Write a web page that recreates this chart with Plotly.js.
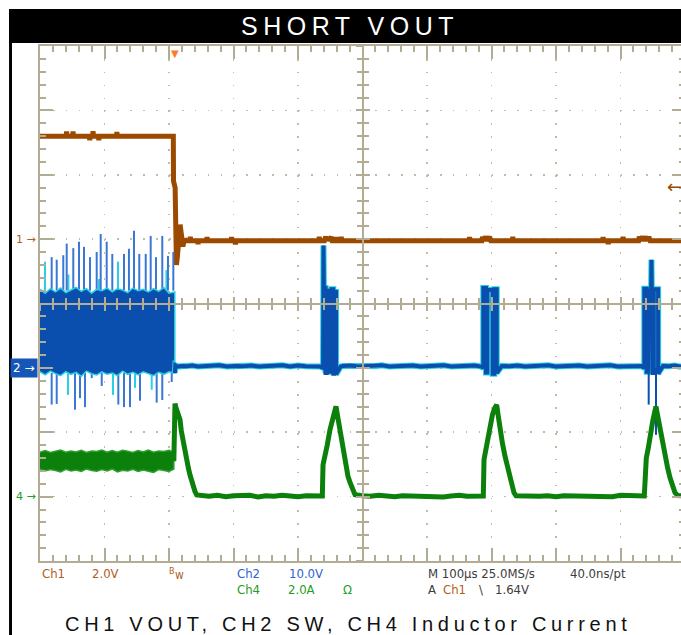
<!DOCTYPE html>
<html><head><meta charset="utf-8">
<script src="https://cdn.plot.ly/plotly-3.0.1.min.js"></script>
<style>html,body{margin:0;padding:0;overflow:hidden;background:#fff}</style>
</head><body><div id="chart" style="width:690px;height:635px"></div>
<script>
// ---- Ch1 VOUT (V), time in microseconds from left edge of screen
const ch1Time = [0, 40.5, 41.2, 42, 50.5, 51.2, 52, 76.5, 77.2, 78, 81.5, 82.2, 83, 90.5, 91.2, 92, 118.5, 119.2, 120, 206.7, 207.0, 209.5, 210.6, 211.5, 213.0, 215.0, 217.2, 219.5, 221.5, 224.0, 226.0, 232, 233, 234, 244, 245, 246, 258, 259, 260, 296, 297, 298, 302, 303, 304, 432, 433, 434, 441, 442, 443, 444, 447, 448, 452, 453, 458, 459, 460, 466, 467, 468, 665, 666, 667, 685, 686, 688, 691, 693, 697, 699, 732, 733, 734, 872, 873, 874, 880, 881, 882, 903, 904, 905, 928, 929, 931, 934, 936, 939, 941, 944, 946, 1000];
const ch1Volt = [3.2, 3.2, 3.34, 3.2, 3.2, 3.34, 3.2, 3.2, 3.07, 3.2, 3.2, 3.35, 3.2, 3.2, 3.07, 3.2, 3.2, 3.33, 3.2, 3.2, 1.8, 1.6, -0.2, -0.8, -0.55, 0.2, 0.45, 0.1, -0.23, 0.0, -0.05, -0.05, 0.07, -0.05, -0.05, -0.15, -0.05, -0.05, 0.06, -0.05, -0.05, 0.06, -0.05, -0.05, -0.16, -0.05, -0.05, 0.07, -0.05, -0.05, 0.08, 0.08, -0.05, 0.07, -0.05, 0.07, -0.05, -0.05, 0.06, -0.05, -0.05, 0.07, -0.05, -0.05, 0.06, -0.05, -0.05, 0.07, -0.05, 0.08, -0.05, 0.07, -0.05, -0.05, 0.07, -0.05, -0.05, 0.06, -0.05, -0.05, -0.15, -0.05, -0.05, 0.07, -0.05, -0.05, 0.08, -0.05, 0.08, -0.05, 0.08, -0.05, 0.07, -0.05, -0.05];

// ---- Ch2 SW (V): switching envelope before the short
const ch2BandTime = [0, 8, 16, 24, 32, 40, 48, 56, 64, 72, 80, 88, 96, 104, 112, 120, 128, 136, 144, 152, 160, 168, 176, 184, 192, 200, 209];
const ch2BandHigh = [12.2, 11.6, 12.3, 11.8, 12.4, 11.7, 12.1, 12.5, 11.9, 12.3, 11.6, 12.2, 12.0, 12.4, 11.8, 12.3, 12.1, 11.7, 12.4, 12.0, 12.2, 11.8, 12.3, 11.9, 12.5, 11.6, 11.8];
const ch2BandLow  = [-0.6, -1.1, -0.5, -0.9, -1.2, -0.6, -1.0, -0.7, -1.3, -0.5, -0.9, -1.1, -0.6, -1.0, -0.8, -1.2, -0.5, -1.0, -0.7, -1.1, -0.6, -0.9, -1.2, -0.7, -1.0, -0.6, -0.8];
const ch2SwitchHigh = 12.0;
const ch2SwitchLow = -0.8;
const ch2SpikeUpTime = [18.1, 25.9, 36.1, 41.4, 51.6, 60.5, 68.2, 77.5, 87.9, 94.1, 103.4, 112.1, 130.2, 137.9, 145.7, 153.9, 163.9, 171.6, 179.8, 189.6, 198.4, 206.7];
const ch2SpikeUpVolt = [17.2, 16.8, 17.5, 19.3, 18.6, 19.6, 18.8, 17.2, 18.0, 20.8, 19.6, 17.7, 17.7, 18.5, 21.3, 17.7, 17.7, 20.5, 17.2, 20.5, 17.4, 18.0];
const ch2SpikeUpCyanTime = [7.8, 44.0, 91.4, 120.9, 196.0];
const ch2SpikeUpCyanVolt = [16.5, 14.5, 13.8, 16.5, 15.2];
const ch2SpikeDownTime = [18.1, 25.9, 54.3, 62.0, 69.8, 80.2, 95.7, 121.4, 130.2, 139.5, 155.0, 180.9, 189.6, 204.2];
const ch2SpikeDownVolt = [-5.7, -5.6, -6.5, -4.7, -6.1, -1.6, -2.8, -5.7, -6.1, -6.1, -5.1, -5.4, -5.0, -2.2];
const ch2SpikeDownCyanTime = [43.4, 113.2, 147.3, 173.2];
const ch2SpikeDownCyanVolt = [-4.2, -4.2, -3.1, -3.4];
// ---- Ch2 after the short (hiccup bursts)
const ch2Time = [209, 209.8, 213, 220, 228, 236, 245, 255, 266, 278, 290, 302, 315, 328, 340, 352, 364, 376, 388, 400, 412, 424, 434,
  438.9, 438.9, 439.5, 440.1, 442.6, 442.6, 444.5, 444.5, 449.6, 449.6, 452.2, 452.2, 454.7, 454.7, 456.3, 456.3, 458.9, 458.9,
  462, 466, 470, 482, 494, 506, 518, 530, 542, 554, 566, 578, 590, 602, 614, 626, 638, 650, 662, 674, 684,
  687.3, 687.3, 691.5, 691.5, 693.5, 693.5, 701.9, 701.9, 704.3, 704.3, 708.1, 708.1,
  712, 716, 728, 740, 752, 764, 776, 788, 800, 812, 824, 836, 848, 860, 872, 884, 896, 908, 920, 932,
  936.9, 936.9, 940.6, 940.6, 943.1, 943.1, 947.5, 948.0, 948.5, 949.9, 949.9, 951.6, 951.6, 958.3, 958.3,
  962, 966, 975, 984, 992, 1000];
const ch2Volt = [-0.8, 0.4, 0.2, 0.3, 0.25, 0.35, 0.2, 0.3, 0.3, 0.4, 0.2, 0.3, 0.25, 0.35, 0.2, 0.3, 0.3, 0.4, 0.2, 0.35, 0.25, 0.3, 0.2,
  0.0, 12.4, 19.0, 12.4, 12.4, -0.8, -0.8, 12.0, 12.0, -0.6, -0.6, 12.2, 12.2, -0.9, -0.9, 11.8, 11.8, -1.0,
  -0.5, 0.2, 0.3, 0.35, 0.2, 0.3, 0.25, 0.4, 0.2, 0.3, 0.3, 0.35, 0.2, 0.3, 0.25, 0.4, 0.2, 0.3, 0.25, 0.35, 0.2,
  0.0, 12.4, 12.4, -0.7, -0.7, 12.1, 12.1, -0.9, -0.9, 12.2, 12.2, -0.8,
  -0.3, 0.3, 0.25, 0.35, 0.2, 0.3, 0.3, 0.4, 0.2, 0.3, 0.25, 0.35, 0.2, 0.3, 0.3, 0.4, 0.2, 0.3, 0.25, 0.3,
  0.0, 12.3, 12.3, -0.6, -0.6, 12.0, 12.0, 16.8, 12.0, 12.0, -0.8, -0.8, 12.2, 12.2, -0.9,
  -0.3, 0.3, 0.25, 0.35, 0.2, 0.3];
const ch2GlitchTime = [943.7, 955.0];
const ch2GlitchVolt = [-5.7, -10.4];

// ---- Ch4 inductor current (A)
const ch4BandTime = [0, 8, 16, 24, 32, 40, 48, 56, 64, 72, 80, 88, 96, 104, 112, 120, 128, 136, 144, 152, 160, 168, 176, 184, 192, 200, 207.5];
const ch4BandHigh = [1.38, 1.43, 1.37, 1.41, 1.45, 1.38, 1.42, 1.39, 1.44, 1.37, 1.42, 1.40, 1.45, 1.38, 1.43, 1.38, 1.44, 1.41, 1.37, 1.43, 1.39, 1.45, 1.38, 1.42, 1.40, 1.44, 1.38];
const ch4BandLow  = [0.86, 0.80, 0.84, 0.81, 0.77, 0.85, 0.80, 0.83, 0.78, 0.86, 0.81, 0.79, 0.84, 0.80, 0.86, 0.77, 0.82, 0.80, 0.85, 0.78, 0.83, 0.80, 0.75, 0.84, 0.81, 0.78, 0.86];
const ch4Time = [207.5, 208.3, 209.3, 210.5, 211.8, 213.5, 215.5, 217.1, 219.0, 221.2, 223.5, 225.9, 227.8, 229.9, 232.5, 235.2, 237.8, 240.3, 243.0,
  250, 262, 275, 288, 300, 313, 325, 338, 350, 363, 375, 388, 400, 413, 425, 437.7,
  438.8, 441.9, 445.5, 449.6, 454.0, 458.9, 461.0, 463.6, 466.5, 469.8, 473.5, 477.5, 480.5, 483.7, 488.4,
  500, 512, 525, 537, 550, 562, 575, 587, 600, 612, 625, 637, 650, 662, 675, 687.3,
  688.4, 691.5, 694.6, 698.0, 701.5, 705.0, 708.0, 710.5, 713.2, 717.0, 721.0, 725.0, 728.7, 732.0, 734.9, 738.0,
  750, 762, 775, 787, 800, 812, 825, 837, 850, 862, 875, 887, 900, 912, 925, 936.9,
  937.8, 940.0, 943.0, 945.7, 950.0, 954.9, 958.0, 961.2, 965.0, 969.0, 973.0, 976.7, 980.5, 984.5, 989.0, 995.0, 1000];
const ch4Amp = [1.10, 2.60, 2.89, 2.78, 2.70, 2.62, 2.52, 2.39, 2.05, 1.77, 1.55, 1.30, 1.12, 0.90, 0.68, 0.48, 0.30, 0.16, 0.05,
  0.03, 0.01, 0.04, 0.00, 0.03, 0.02, 0.04, -0.01, 0.03, 0.01, 0.04, 0.02, 0.00, 0.03, 0.02, 0.02,
  0.99, 1.25, 1.62, 2.08, 2.45, 2.80, 2.55, 2.24, 1.80, 1.37, 1.00, 0.63, 0.45, 0.28, 0.06,
  0.03, 0.01, 0.04, 0.02, 0.00, 0.03, 0.02, 0.04, 0.01, 0.03, -0.01, 0.02, 0.04, 0.01, 0.03, 0.02,
  1.15, 1.50, 1.87, 2.22, 2.55, 2.75, 2.85, 2.50, 2.08, 1.65, 1.25, 0.90, 0.59, 0.33, 0.12, 0.03,
  0.02, 0.04, 0.01, 0.03, 0.00, 0.03, 0.02, 0.04, 0.01, 0.03, 0.02, 0.00, 0.04, 0.02, 0.03, 0.02,
  0.90, 1.20, 1.50, 1.87, 2.35, 2.80, 2.45, 2.08, 1.65, 1.25, 0.90, 0.59, 0.33, 0.12, 0.03, 0.03, 0.02];

// ---- scope settings
const triggerTime = 209;
const triggerLevel = 1.64;

// ---- colours
const cBrown = '#9c4a00', cBlue = '#0a4eae', cBlueLt = '#3a78d4', cCyan = '#28d0e2', cGreen = '#0b800b';
const cGrid = '#b3ac94';

function band(t, hi, lo) {
  return { x: t.concat(t.slice().reverse()), y: hi.concat(lo.slice().reverse()) };
}
function spikes(t, base, tips) {
  const xs = [], ys = [];
  t.forEach((v, i) => { xs.push(v, v, null); ys.push(base, tips[i], null); });
  return { x: xs, y: ys };
}
const b2 = band(ch2BandTime, ch2BandHigh, ch2BandLow);
const b4 = band(ch4BandTime, ch4BandHigh, ch4BandLow);
const su = spikes(ch2SpikeUpTime, ch2SwitchHigh, ch2SpikeUpVolt);
const suc = spikes(ch2SpikeUpCyanTime, ch2SwitchHigh, ch2SpikeUpCyanVolt);
const sd = spikes(ch2SpikeDownTime, ch2SwitchLow, ch2SpikeDownVolt);
const sdc = spikes(ch2SpikeDownCyanTime, ch2SwitchLow, ch2SpikeDownCyanVolt);
const gl = spikes(ch2GlitchTime, 0, ch2GlitchVolt);

const common = { type: 'scatter', mode: 'lines', hoverinfo: 'skip', showlegend: false };
const data = [
  Object.assign({}, common, { x: b4.x, y: b4.y, yaxis: 'y3', fill: 'toself', fillcolor: cGreen, line: { color: '#2e9e2e', width: 1.5 } }),
  Object.assign({}, common, { x: ch4Time, y: ch4Amp, yaxis: 'y3', line: { color: cGreen, width: 5 } }),
  Object.assign({}, common, { x: ch1Time, y: ch1Volt, yaxis: 'y', line: { color: cBrown, width: 5 } }),
  Object.assign({}, common, { x: suc.x.concat(sdc.x), y: suc.y.concat(sdc.y), yaxis: 'y2', line: { color: cCyan, width: 2 } }),
  Object.assign({}, common, { x: su.x.concat(sd.x), y: su.y.concat(sd.y), yaxis: 'y2', line: { color: cBlueLt, width: 2 } }),
  Object.assign({}, common, { x: b2.x, y: b2.y, yaxis: 'y2', fill: 'toself', fillcolor: cBlue, line: { color: cCyan, width: 1.5 } }),
  Object.assign({}, common, { x: ch2Time, y: ch2Volt, yaxis: 'y2', line: { color: cCyan, width: 6 } }),
  Object.assign({}, common, { x: ch2Time, y: ch2Volt, yaxis: 'y2', line: { color: cBlue, width: 4 } }),
  Object.assign({}, common, { x: gl.x, y: gl.y, yaxis: 'y2', line: { color: cBlue, width: 2 } }),
  Object.assign({}, common, { x: [], y: [], xaxis: 'x2', yaxis: 'y4' }),
  Object.assign({}, common, { x: [], y: [], xaxis: 'x3', yaxis: 'y5' })
];

const frameX = {
  range: [0, 1000], dtick: 100, tick0: 0, showgrid: true, gridcolor: '#c2bca6', gridwidth: 1.6, griddash: '1.6px,11.3px',
  zeroline: false, showline: true, linecolor: cGrid, linewidth: 2, mirror: 'ticks', ticks: 'inside', ticklen: 13,
  tickwidth: 2, tickcolor: cGrid, showticklabels: false, fixedrange: true,
  minor: { dtick: 20, tick0: 0, ticks: 'inside', ticklen: 6, tickwidth: 2, tickcolor: cGrid, showgrid: false }
};
const frameY = {
  range: [-10, 6], dtick: 2, tick0: 0, showgrid: true, gridcolor: '#c2bca6', gridwidth: 1.6, griddash: '1.6px,11.3px',
  zeroline: false, showline: true, linecolor: cGrid, linewidth: 2, mirror: 'ticks', ticks: 'inside', ticklen: 13,
  tickwidth: 2, tickcolor: cGrid, showticklabels: false, fixedrange: true,
  minor: { dtick: 0.4, tick0: 0, ticks: 'inside', ticklen: 6, tickwidth: 2, tickcolor: cGrid, showgrid: false }
};
function centerAxis(base, overlay, dir, mdtick) {
  return {
    overlaying: overlay, anchor: 'free', position: 0.5, range: base.range, dtick: base.dtick, tick0: 0,
    showline: true, linecolor: cGrid, linewidth: 2, ticks: dir, ticklen: 6, tickwidth: 2, tickcolor: cGrid,
    minor: { dtick: mdtick, tick0: 0, ticks: dir, ticklen: 5, tickwidth: 2, tickcolor: cGrid, showgrid: false },
    showgrid: false, zeroline: false, showticklabels: false, layer: 'above traces', fixedrange: true
  };
}

const narrow = 'Liberation Sans Narrow, DejaVu Sans Condensed, Arial Narrow, sans-serif';
function status(text, x, y, color, size) {
  return { xref: 'paper', yref: 'paper', x: x, y: y, xanchor: 'left', yanchor: 'middle', showarrow: false,
    text: text, font: { family: narrow, size: size || 13, color: color } };
}
const row1 = -0.0252, row2 = -0.0550;
const sBrown = '#b0601e', sBlue = '#2f63cf', sGreen = '#279a27', sGrey = '#3c3c3c';

const layout = {
  width: 690, height: 635,
  margin: { l: 40, r: 5, t: 46, b: 74, pad: 0 },
  paper_bgcolor: '#ffffff', plot_bgcolor: '#ffffff', showlegend: false,
  xaxis: frameX,
  yaxis: frameY,
  yaxis2: { overlaying: 'y', range: [-30, 50], visible: false, fixedrange: true },
  yaxis3: { overlaying: 'y', range: [-2, 14], visible: false, fixedrange: true },
  xaxis2: centerAxis(frameX, 'x', 'inside', 20),
  xaxis3: centerAxis(frameX, 'x', 'outside', 20),
  yaxis4: centerAxis(frameY, 'y', 'inside', 0.4),
  yaxis5: centerAxis(frameY, 'y', 'outside', 0.4),
  shapes: [
    { type: 'rect', xref: 'paper', yref: 'paper', x0: -0.048, x1: 1.1, y0: 1.0058, y1: 1.072, fillcolor: '#000', line: { width: 0 }, layer: 'above' },
    { type: 'rect', xref: 'paper', yref: 'paper', x0: -0.048, x1: -0.0434, y0: -0.2, y1: 1.072, fillcolor: '#000', line: { width: 0 }, layer: 'above' }
  ],
  annotations: [
    { xref: 'paper', yref: 'paper', x: 0.48, y: 1.038, xanchor: 'center', yanchor: 'middle', showarrow: false,
      text: '<span style="letter-spacing:5.5px">SHORT VOUT</span>', font: { family: 'Liberation Sans, Arial, sans-serif', size: 25, color: '#ffffff' } },
    { xref: 'paper', yref: 'paper', x: 0.479, y: -0.1223, xanchor: 'center', yanchor: 'middle', showarrow: false,
      text: '<span style="letter-spacing:4.7px">CH1 VOUT, CH2 SW, CH4 Inductor Current</span>', font: { family: 'Liberation Sans, Arial, sans-serif', size: 20, color: '#111111' } },
    // trigger position and level markers
    { xref: 'x', yref: 'paper', x: triggerTime, y: 1.0, xanchor: 'center', yanchor: 'top', showarrow: false, text: '▼',
      font: { family: 'DejaVu Sans', size: 10, color: '#ff7a2a' } },
    { xref: 'paper', yref: 'y', x: 0.998, y: triggerLevel, xanchor: 'right', yanchor: 'middle', showarrow: false, text: '←',
      font: { family: 'DejaVu Sans', size: 18, color: cBrown } },
    // channel ground markers
    { xref: 'paper', yref: 'y', x: -0.003, y: 0, xanchor: 'right', yanchor: 'middle', showarrow: false, text: '1 →',
      font: { family: 'DejaVu Sans', size: 11, color: '#b0601e' } },
    { xref: 'paper', yref: 'y2', x: -0.003, y: 0, xanchor: 'right', yanchor: 'middle', showarrow: false, text: '2 →',
      bgcolor: '#1556b8', borderpad: 2, font: { family: 'DejaVu Sans', size: 12, color: '#ffffff' } },
    { xref: 'paper', yref: 'y3', x: -0.003, y: 0, xanchor: 'right', yanchor: 'middle', showarrow: false, text: '4 →',
      font: { family: 'DejaVu Sans', size: 11, color: sGreen } },
    // status lines
    status('Ch1', 0.0, row1, sBrown),
    status('2.0V', 0.078, row1, sBrown),
    status('B', 0.197, row1 + 0.006, sBrown, 9),
    status('w', 0.2065, row1 - 0.002, sBrown, 12),
    status('Ch2', 0.3016, row1, sBlue),
    status('10.0V', 0.383, row1, sBlue),
    status('M 100µs 25.0MS/s', 0.599, row1, sGrey),
    status('40.0ns/pt', 0.818, row1, sGrey),
    status('Ch4', 0.3016, row2, sGreen),
    status('2.0A', 0.381, row2, sGreen),
    status('Ω', 0.466, row2, sGreen),
    status('A', 0.599, row2, sGrey),
    status('Ch1', 0.622, row2, sBrown),
    status('\\', 0.678, row2, sGrey),
    status('1.64V', 0.702, row2, sGrey)
  ]
};

Plotly.newPlot('chart', data, layout, { displayModeBar: false, staticPlot: true });
</script></body></html>
